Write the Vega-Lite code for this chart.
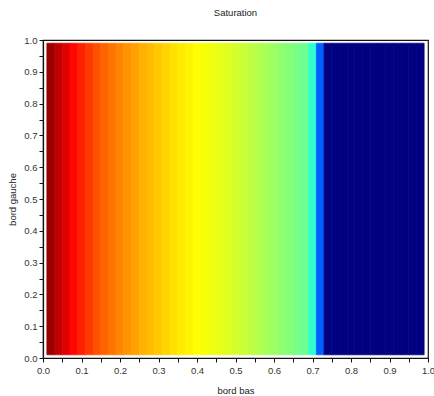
{
  "$schema": "https://vega.github.io/schema/vega-lite/v6.json",
  "autosize": "none",
  "width": 385,
  "height": 318,
  "padding": {"left": 43, "top": 40, "right": 6, "bottom": 38},
  "title": {"text": "Saturation", "fontSize": 9.5, "fontWeight": "normal", "font": "Liberation Sans", "color": "#222", "offset": 18, "anchor": "middle"},
  "config": {
    "view": {"stroke": "#111", "strokeWidth": 1.2},
    "axis": {"labelFont": "Liberation Sans", "titleFont": "Liberation Sans", "labelFontSize": 9.5, "titleFontSize": 9.5, "titleFontWeight": "normal", "labelColor": "#333", "titleColor": "#222", "domainColor": "#111", "domainWidth": 1.2, "tickColor": "#111", "tickSize": 4, "grid": false}
  },
  "data": {"values": [
    {"x0": 0.01, "x1": 0.03, "s": 0.975},
    {"x0": 0.03, "x1": 0.05, "s": 0.94},
    {"x0": 0.05, "x1": 0.07, "s": 0.905},
    {"x0": 0.07, "x1": 0.09, "s": 0.868},
    {"x0": 0.09, "x1": 0.11, "s": 0.844},
    {"x0": 0.11, "x1": 0.13, "s": 0.82},
    {"x0": 0.13, "x1": 0.15, "s": 0.797},
    {"x0": 0.15, "x1": 0.17, "s": 0.777},
    {"x0": 0.17, "x1": 0.19, "s": 0.761},
    {"x0": 0.19, "x1": 0.21, "s": 0.745},
    {"x0": 0.21, "x1": 0.23, "s": 0.73},
    {"x0": 0.23, "x1": 0.25, "s": 0.716},
    {"x0": 0.25, "x1": 0.27, "s": 0.702},
    {"x0": 0.27, "x1": 0.29, "s": 0.691},
    {"x0": 0.29, "x1": 0.31, "s": 0.679},
    {"x0": 0.31, "x1": 0.33, "s": 0.667},
    {"x0": 0.33, "x1": 0.35, "s": 0.655},
    {"x0": 0.35, "x1": 0.37, "s": 0.645},
    {"x0": 0.37, "x1": 0.39, "s": 0.636},
    {"x0": 0.39, "x1": 0.41, "s": 0.625},
    {"x0": 0.41, "x1": 0.43, "s": 0.6175},
    {"x0": 0.43, "x1": 0.45, "s": 0.61},
    {"x0": 0.45, "x1": 0.47, "s": 0.602},
    {"x0": 0.47, "x1": 0.49, "s": 0.594},
    {"x0": 0.49, "x1": 0.51, "s": 0.583},
    {"x0": 0.51, "x1": 0.53, "s": 0.573},
    {"x0": 0.53, "x1": 0.55, "s": 0.5625},
    {"x0": 0.55, "x1": 0.57, "s": 0.551},
    {"x0": 0.57, "x1": 0.59, "s": 0.54},
    {"x0": 0.59, "x1": 0.61, "s": 0.528},
    {"x0": 0.61, "x1": 0.63, "s": 0.516},
    {"x0": 0.63, "x1": 0.65, "s": 0.505},
    {"x0": 0.65, "x1": 0.67, "s": 0.4925},
    {"x0": 0.67, "x1": 0.69, "s": 0.48},
    {"x0": 0.69, "x1": 0.71, "s": 0.425},
    {"x0": 0.71, "x1": 0.73, "s": 0.219},
    {"x0": 0.73, "x1": 0.75, "s": 0},
    {"x0": 0.75, "x1": 0.77, "s": 0},
    {"x0": 0.77, "x1": 0.79, "s": 0},
    {"x0": 0.79, "x1": 0.81, "s": 0},
    {"x0": 0.81, "x1": 0.83, "s": 0},
    {"x0": 0.83, "x1": 0.85, "s": 0},
    {"x0": 0.85, "x1": 0.87, "s": 0},
    {"x0": 0.87, "x1": 0.89, "s": 0},
    {"x0": 0.89, "x1": 0.91, "s": 0},
    {"x0": 0.91, "x1": 0.93, "s": 0},
    {"x0": 0.93, "x1": 0.95, "s": 0},
    {"x0": 0.95, "x1": 0.97, "s": 0},
    {"x0": 0.97, "x1": 0.99, "s": 0}
  ]},
  "mark": {"type": "rect", "strokeWidth": 0.7},
  "encoding": {
    "x": {"field": "x0", "type": "quantitative", "scale": {"domain": [0, 1], "nice": false},
      "axis": {"title": "bord bas", "values": [0,0.05,0.1,0.15,0.2,0.25,0.3,0.35,0.4,0.45,0.5,0.55,0.6,0.65,0.7,0.75,0.8,0.85,0.9,0.95,1], "labelExpr": "round(datum.value*100) % 10 == 0 ? format(datum.value, '.1f') : ''", "labelPadding": 3, "titlePadding": 11, "labelFlush": false, "labelOverlap": false}},
    "x2": {"field": "x1"},
    "y": {"datum": 0.01, "type": "quantitative", "scale": {"domain": [0, 1], "nice": false},
      "axis": {"title": "bord gauche", "values": [0,0.05,0.1,0.15,0.2,0.25,0.3,0.35,0.4,0.45,0.5,0.55,0.6,0.65,0.7,0.75,0.8,0.85,0.9,0.95,1], "labelExpr": "round(datum.value*100) % 10 == 0 ? format(datum.value, '.1f') : ''", "labelPadding": 2, "titlePadding": 6, "labelFlush": false, "labelOverlap": false}},
    "y2": {"datum": 0.99},
    "color": {"field": "s", "type": "quantitative", "legend": null,
      "scale": {"domain": [0, 0.125, 0.375, 0.625, 0.875, 1], "range": ["#000080", "#0000ff", "#00ffff", "#ffff00", "#ff0000", "#800000"], "interpolate": "rgb"}},
    "stroke": {"field": "s", "type": "quantitative", "legend": null,
      "scale": {"domain": [0, 0.125, 0.375, 0.625, 0.875, 1], "range": ["#000080", "#0000ff", "#00ffff", "#ffff00", "#ff0000", "#800000"], "interpolate": "rgb"}}
  }
}
